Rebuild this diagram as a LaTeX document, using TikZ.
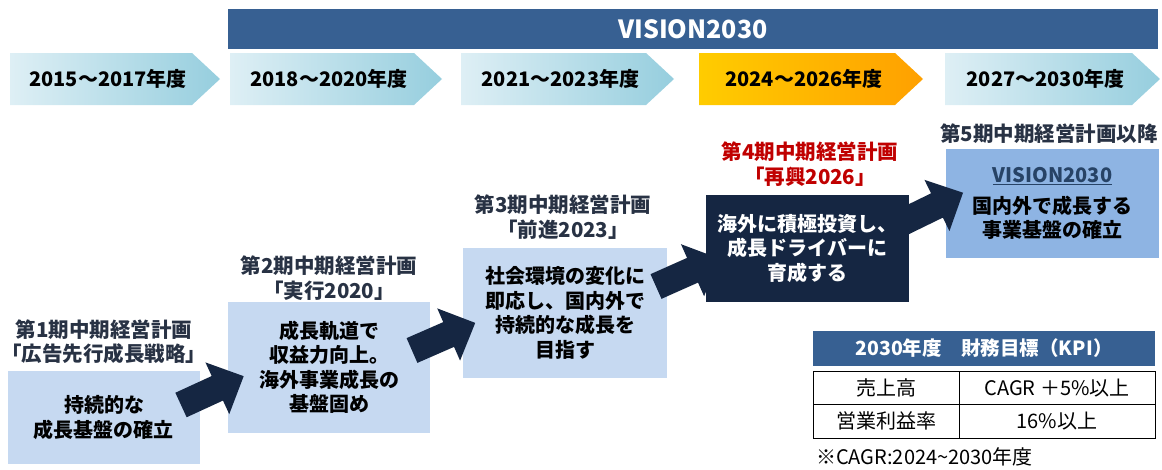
\documentclass[tikz,border=0pt]{standalone}
\usepackage{fontspec}
\setmainfont{Noto Sans CJK JP}
\usetikzlibrary{positioning}
\definecolor{barblue}{RGB}{55,96,146}
\definecolor{darknavy}{RGB}{21,38,66}
\definecolor{boxlight}{RGB}{198,217,241}
\definecolor{boxmid}{RGB}{142,180,227}
\definecolor{planred}{RGB}{192,0,0}
\definecolor{lblgray}{RGB}{40,50,68}
\definecolor{chevL}{RGB}{222,239,245}
\definecolor{chevR}{RGB}{150,206,222}
\definecolor{orgL}{RGB}{255,204,0}
\definecolor{orgR}{RGB}{255,160,0}
\tikzset{
  yearlbl/.style={font=\fontsize{20}{24}\selectfont\bfseries},
  planbox/.style={fill=boxlight, align=center, inner sep=0pt, font=\fontsize{20}{24.5}\selectfont\bfseries},
  planlbl/.style={align=center, text=lblgray, font=\fontsize{20.5}{24.5}\selectfont\bfseries},
  celltxt/.style={font=\fontsize{20}{24}\selectfont},
  blockarr/.pic={\fill[darknavy] (0,-13.5) -- (40,-13.5) -- (40,-28.5) -- (69,0) -- (40,28.5) -- (40,13.5) -- (0,13.5) -- cycle;}
}
\begin{document}
\begin{tikzpicture}[x=1pt,y=-1pt]
\useasboundingbox (0,0) rectangle (1162,469);
% VISION2030 bar
\node[fill=barblue, text=white, minimum width=930pt, minimum height=39.5pt, font=\fontsize{25}{28}\selectfont\bfseries] (vis) at (693,28.75) {VISION2030};
% year chevrons
\foreach \l/\r/\t/\n in {10/220/2015～2017年度/y1, 230/442/2018～2020年度/y2, 461/674/2021～2023年度/y3, 945/1160/2027～2030年度/y5} {
  \shade[left color=chevL, right color=chevR] (\l,53) -- (\r-28,53) -- (\r,79) -- (\r-28,105) -- (\l,105) -- cycle;
  \node[yearlbl] (\n) at ({(\l+\r)/2-7},79) {\t};
}
\shade[left color=orgL, right color=orgR] (699,53) -- (895,53) -- (923,79) -- (895,105) -- (699,105) -- cycle;
\node[yearlbl] (y4) at (804,79) {2024～2026年度};
% plans
\node[planbox, minimum width=192pt, minimum height=93pt] (p1) at (104,417.5) {持続的な\\成長基盤の確立};
\node[planbox, minimum width=202pt, minimum height=131pt] (p2) at (329,367.5) {成長軌道で\\収益力向上。\\海外事業成長の\\基盤固め};
\node[planbox, minimum width=204pt, minimum height=130pt] (p3) at (565,313) {社会環境の変化に\\即応し、国内外で\\持続的な成長を\\目指す};
\node[planbox, fill=darknavy, text=white, minimum width=203pt, minimum height=107pt] (p4) at (807.5,248.5) {海外に積極投資し、\\成長ドライバーに\\育成する};
\node[planbox, fill=boxmid, minimum width=213pt, minimum height=109pt] (p5) at (1052.5,203.5) {\textcolor{barblue!70!black}{\underline{VISION2030}}\\[6pt]国内外で成長する\\事業基盤の確立};
\node[planlbl] (l1) at (104,342) {第1期中期経営計画\\「広告先行成長戦略」};
\node[planlbl] (l2) at (329,278) {第2期中期経営計画\\「実行2020」};
\node[planlbl] (l3) at (563,217) {第3期中期経営計画\\「前進2023」};
\node[planlbl, text=planred] (l4) at (810,164) {第4期中期経営計画\\「再興2026」};
\node[planlbl] (l5) at (1049,134) {第5期中期経営計画以降};
% arrows
\pic[rotate=24.7] (ar1) at (181,405) {blockarr};
\pic[rotate=23.6] (ar2) at (412,350.5) {blockarr};
\pic[rotate=24] (ar3) at (656,286.5) {blockarr};
\pic[rotate=26] (ar4) at (901,223) {blockarr};
% KPI table
\node[fill=barblue, text=white, minimum width=342pt, minimum height=35pt, font=\fontsize{19.5}{24}\selectfont\bfseries] (kpi) at (984,348.5) {2030年度　財務目標（KPI）};
\draw[thick] (813,371) rectangle (1155,438);
\draw[thick] (813,404) -- (1155,404);
\draw[thick] (959,371) -- (959,438);
\node[celltxt] (c11) at (886,388) {売上高};
\node[celltxt] (c12) at (1057,388) {CAGR ＋5\%以上};
\node[celltxt] (c21) at (886,421) {営業利益率};
\node[celltxt] (c22) at (1057,421) {16\%以上};
\node[celltxt, anchor=west, inner sep=0pt] (note) at (816,457) {※CAGR:2024\textasciitilde 2030年度};
\end{tikzpicture}
\end{document}
